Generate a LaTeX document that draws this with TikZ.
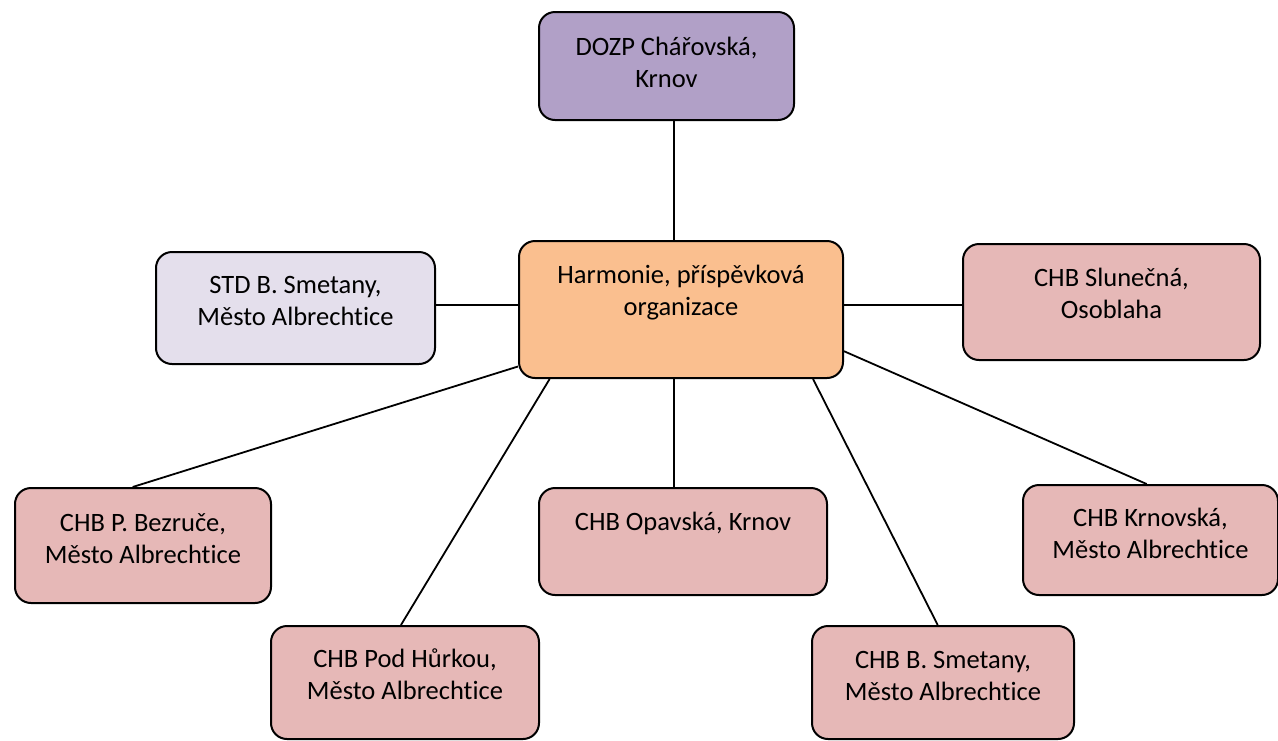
\documentclass[tikz,border=0pt]{standalone}
\usepackage{fontspec}
\setmainfont{Carlito}[Ligatures=NoCommon]
\usetikzlibrary{calc}

\begin{document}
\begin{tikzpicture}[x=1pt,y=-1pt]
\definecolor{harmfill}{RGB}{250,191,143}
\definecolor{chbfill}{RGB}{230,184,183}
\definecolor{dozpfill}{RGB}{177,160,199}
\definecolor{stdfill}{RGB}{228,223,236}
\tikzset{
  orgbox/.style={draw,line width=2pt,rounded corners=16pt,inner sep=0pt,
    align=center,anchor=north west,font=\fontsize{26.5}{32}\selectfont},
  link/.style={line width=1.8pt}
}
\useasboundingbox (0,0) rectangle (1278,740);
% centre
\node[orgbox,fill=harmfill,minimum width=324pt,minimum height=137pt,
  text height=58pt,text depth=47pt] (harm) at (518,240) {Harmonie, příspěvková\\organizace};
% top and sides
\node[orgbox,fill=dozpfill,minimum width=255pt,minimum height=108pt,
  text height=59pt,text depth=17pt] (dozp) at (538,11) {DOZP Chářovská,\\Krnov};
\node[orgbox,fill=stdfill,minimum width=279pt,minimum height=112pt,
  text height=58pt,text depth=23pt] (std) at (155,251) {STD B. Smetany,\\Město Albrechtice};
\node[orgbox,fill=chbfill,minimum width=297pt,minimum height=116pt,
  text height=59pt,text depth=26pt] (slunecna) at (962,243) {CHB Slunečná,\\Osoblaha};
% lower row
\node[orgbox,fill=chbfill,minimum width=256pt,minimum height=115pt,
  text height=59pt,text depth=24pt] (bezruce) at (14,487) {CHB P. Bezruče,\\Město Albrechtice};
\node[orgbox,fill=chbfill,minimum width=288pt,minimum height=107pt,
  text height=42pt,text depth=65pt] (opavska) at (538,487) {CHB Opavská, Krnov};
\node[orgbox,fill=chbfill,minimum width=255pt,minimum height=110pt,
  text height=58pt,text depth=21pt] (krnovska) at (1022,484) {CHB Krnovská,\\Město Albrechtice};
\node[orgbox,fill=chbfill,minimum width=268pt,minimum height=113pt,
  text height=58pt,text depth=24pt] (hurkou) at (270,625) {CHB Pod Hůrkou,\\Město Albrechtice};
\node[orgbox,fill=chbfill,minimum width=262pt,minimum height=113pt,
  text height=58pt,text depth=23pt] (smetany) at (811,625) {CHB B. Smetany,\\Město Albrechtice};

\coordinate (axis) at ($(harm.north west)!.478!(harm.north east)$);
\coordinate (mid) at ($(harm.north west)!.47!(harm.south west)$);
\draw[link] (dozp.south -| axis) -- (axis);
\draw[link] (std.east |- mid) -- (mid);
\draw[link] (harm.east |- mid) -- (slunecna.west |- mid);
\draw[link] ($(harm.north west)!.91!(harm.south west)$) -- ($(bezruce.north west)!.46!(bezruce.north east)$);
\draw[link] ($(harm.south west)!.097!(harm.south east)$) -- ($(hurkou.north west)!.485!(hurkou.north east)$);
\draw[link] (harm.south -| axis) -- (opavska.north -| axis);
\draw[link] ($(harm.south west)!.905!(harm.south east)$) -- ($(smetany.north west)!.48!(smetany.north east)$);
\draw[link] ($(harm.north east)!.8!(harm.south east)$) -- ($(krnovska.north west)!.485!(krnovska.north east)$);
\end{tikzpicture}
\end{document}
